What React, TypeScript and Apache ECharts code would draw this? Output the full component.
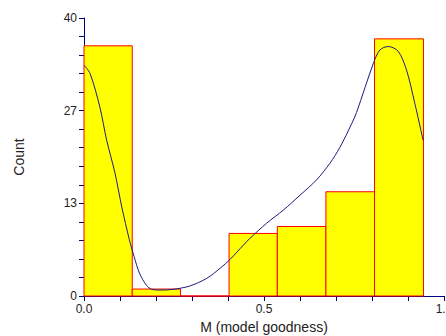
import React, { useEffect, useRef } from "react";
import * as echarts from "echarts";

const binEdges = [0, 0.134, 0.268, 0.403, 0.537, 0.672, 0.807, 0.943];
const binCounts = [36, 1, 0, 9, 10, 15, 37];

const curveX = [0, 0.017, 0.044, 0.063, 0.086, 0.105, 0.126, 0.139, 0.154, 0.174, 0.188, 0.211, 0.248, 0.294, 0.341, 0.378, 0.406, 0.443, 0.461, 0.507, 0.554, 0.6, 0.646, 0.683, 0.711, 0.744, 0.757, 0.804, 0.822, 0.845, 0.873, 0.896, 0.919, 0.942];
const curveY = [33.2, 32.0, 27.2, 22.4, 17.7, 12.8, 8.1, 5.7, 3.3, 1.5, 0.96, 0.86, 0.96, 1.44, 2.54, 3.98, 5.28, 7.34, 8.3, 10.46, 12.37, 14.5, 16.7, 19.1, 21.4, 24.85, 26.4, 33.5, 35.4, 35.9, 35.2, 32.5, 27.7, 22.4];

const yMax = 40;
const yStep = 40 / 3;

export default function App() {
  const ref = useRef<HTMLDivElement>(null);
  useEffect(() => {
    if (!ref.current) return;
    document.body.style.margin = "0";
    const chart = echarts.init(ref.current, undefined, { renderer: "svg" });
    const axisColor = "#000080";
    const barData = binCounts.map((c, i) => [binEdges[i], binEdges[i + 1], c]);
    chart.setOption({
      animation: false,
      grid: { left: 84, right: 2, top: 18, bottom: 40, containLabel: false, outerBoundsMode: "none" },
      xAxis: {
        type: "value",
        min: 0,
        max: 1,
        interval: 0.5,
        name: "M (model goodness)",
        nameLocation: "middle",
        nameGap: 24,
        nameTextStyle: { fontFamily: "Liberation Sans, Arial", fontSize: 14, color: "#222" },
        axisLine: { show: true, lineStyle: { color: axisColor, width: 1 } },
        axisTick: { show: true, length: 5, lineStyle: { color: axisColor } },
        minorTick: { show: true, splitNumber: 5, length: 5, lineStyle: { color: axisColor } },
        axisLabel: {
          margin: 7,
          fontFamily: "Liberation Sans, Arial",
          fontSize: 12,
          color: "#222",
          formatter: (v: number) => v.toFixed(1),
        },
        splitLine: { show: false },
      },
      yAxis: {
        type: "value",
        min: 0,
        max: yMax,
        interval: yStep,
        name: "Count",
        nameLocation: "middle",
        nameGap: 58,
        nameRotate: 90,
        nameTextStyle: { fontFamily: "Liberation Sans, Arial", fontSize: 14, color: "#222" },
        axisLine: { show: true, lineStyle: { color: axisColor, width: 1 } },
        axisTick: { show: true, length: 5, lineStyle: { color: axisColor } },
        minorTick: { show: true, splitNumber: 5, length: 5, lineStyle: { color: axisColor } },
        axisLabel: {
          margin: 7,
          fontFamily: "Liberation Sans, Arial",
          fontSize: 12,
          color: "#222",
          formatter: (v: number) => String(Math.round(v)),
        },
        splitLine: { show: false },
      },
      series: [
        {
          type: "custom",
          data: barData,
          encode: { x: [0, 1], y: 2 },
          renderItem: (params: any, api: any) => {
            const x0 = api.value(0);
            const x1 = api.value(1);
            const c = api.value(2);
            const p0 = api.coord([x0, 0]);
            const p1 = api.coord([x1, c]);
            return {
              type: "rect",
              shape: { x: p0[0], y: p1[1], width: p1[0] - p0[0], height: p0[1] - p1[1] },
              style: { fill: "#ffff00", stroke: "#ff0000", lineWidth: 1 },
            };
          },
          z: 1,
        },
        {
          type: "line",
          data: curveX.map((x, i) => [x, curveY[i]]),
          smooth: 0.3,
          showSymbol: false,
          symbol: "none",
          lineStyle: { color: "#1a1a80", width: 1 },
          z: 3,
        },
      ],
    });
    return () => chart.dispose();
  }, []);
  return <div ref={ref} style={{ width: 446, height: 336 }} />;
}
